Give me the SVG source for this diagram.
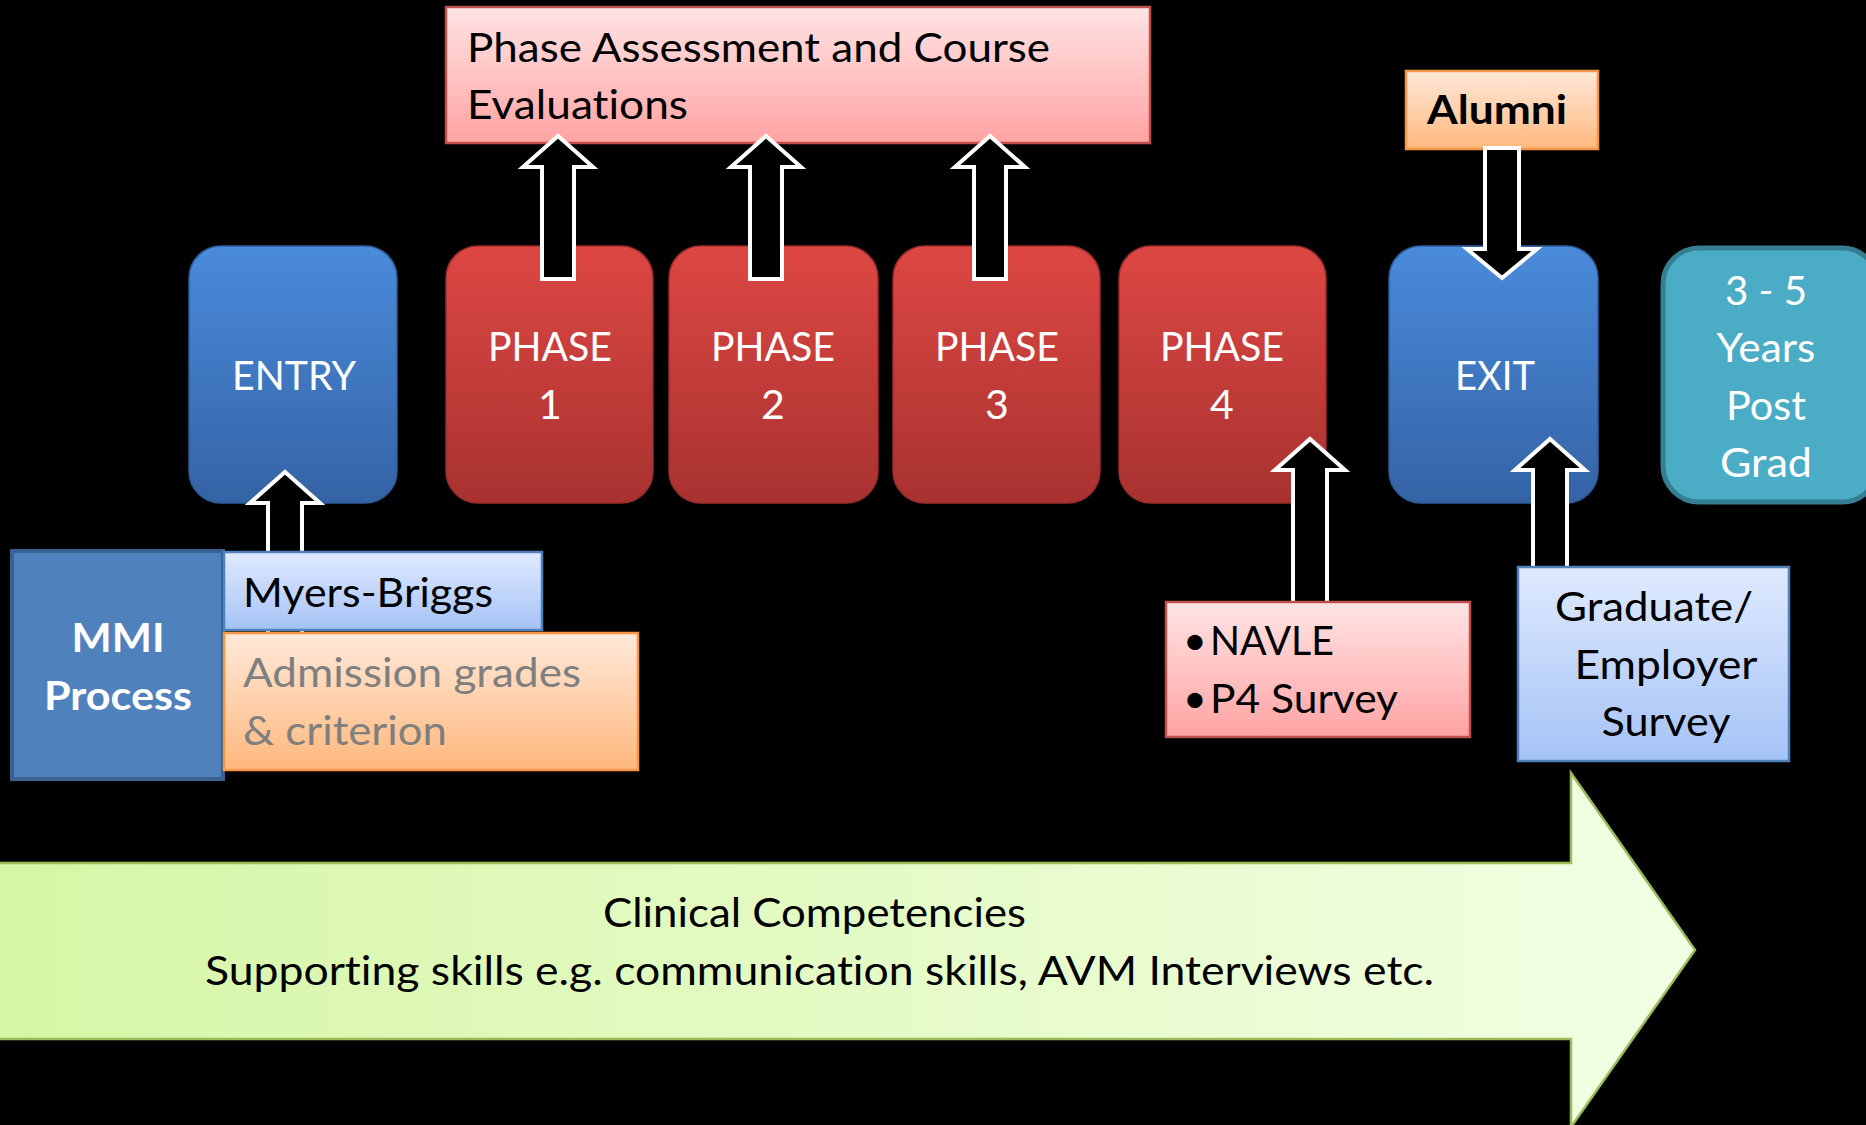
<svg xmlns="http://www.w3.org/2000/svg" width="1866" height="1125" viewBox="0 0 1866 1125">
<defs>
<linearGradient id="gRed" x1="0" y1="0" x2="0" y2="1"><stop offset="0" stop-color="#de4743"/><stop offset="1" stop-color="#a83230"/></linearGradient>
<linearGradient id="gBlue" x1="0" y1="0" x2="0" y2="1"><stop offset="0" stop-color="#4a8bdb"/><stop offset="1" stop-color="#3463a5"/></linearGradient>
<linearGradient id="gPink" x1="0" y1="0" x2="0" y2="1"><stop offset="0" stop-color="#ffe4e4"/><stop offset="1" stop-color="#ffa3a3"/></linearGradient>
<linearGradient id="gPeach" x1="0" y1="0" x2="0" y2="1"><stop offset="0" stop-color="#ffe9da"/><stop offset="1" stop-color="#ffb87d"/></linearGradient>
<linearGradient id="gLBlue" x1="0" y1="0" x2="0" y2="1"><stop offset="0" stop-color="#e0eafe"/><stop offset="1" stop-color="#a5c3f6"/></linearGradient>
<linearGradient id="gGreen" x1="0" y1="0" x2="1" y2="0"><stop offset="0" stop-color="#d6f6a6"/><stop offset="1" stop-color="#f2ffe4"/></linearGradient>
</defs>
<style>
text{font-family:Lato,"Open Sans","Liberation Sans",sans-serif;font-size:41px;font-variant-ligatures:none;font-feature-settings:"liga" 0,"clig" 0,"dlig" 0,"calt" 0}
.w{fill:#ffffff}
.k{fill:#000000}
.g{fill:#7f7f7f}
.b{font-weight:bold}
.m{text-anchor:middle}
.red{fill:url(#gRed);stroke:#9a2e2c;stroke-width:1.5}
.blue{fill:url(#gBlue);stroke:#2f5d9a;stroke-width:1.5}
.pink{fill:url(#gPink);stroke:#c0504d;stroke-width:2.5}
.peach{fill:url(#gPeach);stroke:#f79646;stroke-width:2.5}
.lblue{fill:url(#gLBlue);stroke:#4f81bd;stroke-width:2.5}
.arr{fill:#000000;stroke:#ffffff;stroke-width:4;stroke-linejoin:miter}
</style>
<rect width="1866" height="1125" fill="#000000"/>

<g id="competencies">
<polygon points="-5,863 1571,863 1571,773 1695,950 1571,1127 1571,1039 -5,1039" fill="url(#gGreen)" stroke="#9bbb59" stroke-width="2.5"/>
<text class="k" x="603" y="927" textLength="423" lengthAdjust="spacingAndGlyphs">Clinical Competencies</text>
<text class="k" x="205" y="985" textLength="1229" lengthAdjust="spacingAndGlyphs">Supporting skills e.g. communication skills, AVM Interviews etc.</text>
</g>

<g id="assessment">
<rect class="pink" x="446" y="7" width="704" height="136"/>
<text class="k" x="467" y="62" textLength="583" lengthAdjust="spacingAndGlyphs">Phase Assessment and Course</text>
<text class="k" x="467" y="119" textLength="221" lengthAdjust="spacingAndGlyphs">Evaluations</text>
</g>

<g id="alumni">
<rect class="peach" x="1406" y="71" width="192" height="78"/>
<text class="k b m" x="1497" y="124" font-size="42" textLength="140" lengthAdjust="spacingAndGlyphs">Alumni</text>
</g>

<g id="entry">
<rect class="blue" x="189" y="246" width="208" height="257" rx="32"/>
<text class="w m" x="294" y="390" textLength="124" lengthAdjust="spacingAndGlyphs">ENTRY</text>
</g>

<g id="phase1">
<rect class="red" x="446" y="246" width="207" height="257" rx="32"/>
<text class="w m" x="550" y="361" textLength="124" lengthAdjust="spacingAndGlyphs">PHASE</text>
<text class="w m" x="550" y="419">1</text>
</g>
<g id="phase2">
<rect class="red" x="669" y="246" width="209" height="257" rx="32"/>
<text class="w m" x="773" y="361" textLength="124" lengthAdjust="spacingAndGlyphs">PHASE</text>
<text class="w m" x="773" y="419">2</text>
</g>
<g id="phase3">
<rect class="red" x="893" y="246" width="207" height="257" rx="32"/>
<text class="w m" x="997" y="361" textLength="124" lengthAdjust="spacingAndGlyphs">PHASE</text>
<text class="w m" x="997" y="419">3</text>
</g>
<g id="phase4">
<rect class="red" x="1119" y="246" width="207" height="257" rx="32"/>
<text class="w m" x="1222" y="361" textLength="124" lengthAdjust="spacingAndGlyphs">PHASE</text>
<text class="w m" x="1222" y="419">4</text>
</g>

<g id="exit">
<rect class="blue" x="1389" y="246" width="209" height="257" rx="32"/>
<text class="w m" x="1495" y="390" textLength="80" lengthAdjust="spacingAndGlyphs">EXIT</text>
</g>

<g id="postgrad">
<rect x="1663" y="248" width="215" height="254" rx="36" fill="#4bacc6" stroke="#357f93" stroke-width="5"/>
<text class="w m" x="1766" y="305" textLength="82" lengthAdjust="spacingAndGlyphs">3 - 5</text>
<text class="w m" x="1766" y="362" textLength="99" lengthAdjust="spacingAndGlyphs">Years</text>
<text class="w m" x="1766" y="420" textLength="80" lengthAdjust="spacingAndGlyphs">Post</text>
<text class="w m" x="1766" y="477" textLength="92" lengthAdjust="spacingAndGlyphs">Grad</text>
</g>

<g id="connectors">
<polygon class="arr" points="558,136 593,167 574,167 574,279 542,279 542,167 523,167"/>
<polygon class="arr" points="766,136 801,167 782,167 782,279 750,279 750,167 731,167"/>
<polygon class="arr" points="990,136 1025,167 1006,167 1006,279 974,279 974,167 955,167"/>
<polygon class="arr" points="1502,278 1537,249 1519,249 1519,148 1485,148 1485,249 1467,249"/>
<polygon class="arr" points="285,472 320,503 302,503 302,634 268,634 268,503 250,503"/>
<polygon class="arr" points="1310,439 1345,470 1327,470 1327,606 1293,606 1293,470 1275,470"/>
<polygon class="arr" points="1550,439 1585,470 1567,470 1567,571 1533,571 1533,470 1515,470"/>
</g>

<g id="mmi">
<rect x="12" y="551" width="211" height="228" fill="#4f81bd" stroke="#3a6191" stroke-width="4"/>
<text class="w b m" x="118" y="652" textLength="93" lengthAdjust="spacingAndGlyphs">MMI</text>
<text class="w b m" x="118" y="710" textLength="148" lengthAdjust="spacingAndGlyphs">Process</text>
</g>

<g id="myers">
<rect class="lblue" x="224" y="552" width="318" height="78"/>
<text class="k" x="243" y="607" textLength="250" lengthAdjust="spacingAndGlyphs">Myers-Briggs</text>
</g>

<g id="admission">
<rect class="peach" x="224" y="633" width="414" height="137"/>
<text class="g" x="243" y="687" textLength="338" lengthAdjust="spacingAndGlyphs">Admission grades</text>
<text class="g" x="243" y="745" textLength="204" lengthAdjust="spacingAndGlyphs">&amp; criterion</text>
</g>

<g id="navle">
<rect class="pink" x="1166" y="602" width="304" height="135"/>
<text class="k" x="1183" y="655">•</text>
<text class="k" x="1210" y="655" textLength="124" lengthAdjust="spacingAndGlyphs">NAVLE</text>
<text class="k" x="1183" y="713">•</text>
<text class="k" x="1210" y="713" textLength="188" lengthAdjust="spacingAndGlyphs">P4 Survey</text>
</g>

<g id="survey">
<rect class="lblue" x="1518" y="567" width="271" height="194"/>
<text class="k m" x="1654" y="621" textLength="198" lengthAdjust="spacingAndGlyphs">Graduate/</text>
<text class="k m" x="1666" y="679" textLength="183" lengthAdjust="spacingAndGlyphs">Employer</text>
<text class="k m" x="1666" y="736" textLength="129" lengthAdjust="spacingAndGlyphs">Survey</text>
</g>
</svg>
